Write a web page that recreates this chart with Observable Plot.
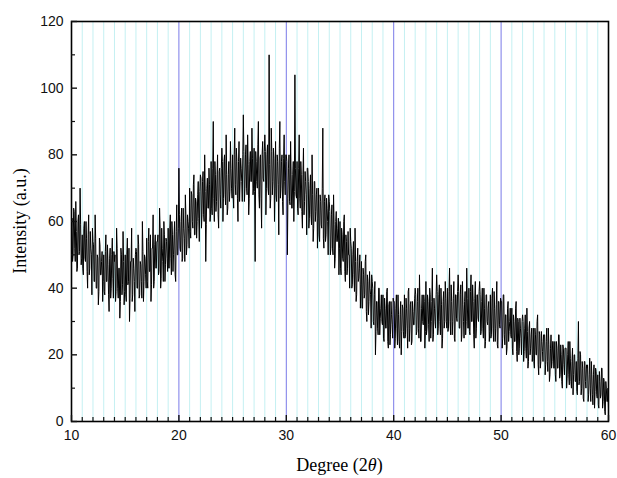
<!DOCTYPE html>
<html><head><meta charset="utf-8">
<script src="https://cdn.jsdelivr.net/npm/d3@7"></script>
<script src="https://cdn.jsdelivr.net/npm/@observablehq/plot@0.6"></script>
<style>body{margin:0;background:#fff} svg{display:block}</style>
</head><body><div id="chart"></div>
<script>
// Sampling grid of the scan: 2θ from 10° in 0.05° steps
const xStart = 10;
const xStep = 0.05;
// Intensity (a.u.) at 10.0, 10.1, 10.2 ... (one row per degree)
const intensity = [
  58,48,64,52,66,45,60,50,70,47,
  56,44,60,48,55,40,62,46,52,38,
  54,42,62,40,50,35,55,44,48,36,
  50,38,56,42,47,33,52,40,55,37,
  48,36,58,40,46,31,52,38,57,35,
  50,36,55,42,30,48,58,38,46,33,
  52,40,56,37,48,42,60,36,50,44,
  55,40,58,45,36,52,62,42,56,46,
  54,44,64,40,58,48,60,42,55,49,
  58,46,62,44,56,50,60,42,65,50,
  76,52,60,48,64,55,68,50,62,58,
  70,55,68,58,74,56,66,60,72,54,
  74,58,72,62,80,48,70,64,76,60,
  78,62,90,60,74,66,80,58,76,64,
  82,60,78,68,86,62,74,66,84,70,
  80,64,88,68,78,60,84,72,76,66,
  92,66,80,70,86,62,78,72,88,68,
  82,48,78,70,90,64,80,58,84,72,
  86,62,80,70,110,64,88,68,82,60,
  84,66,78,56,90,70,80,62,86,68,
  80,50,76,66,84,64,74,60,104,68,
  78,62,86,64,74,58,82,66,72,56,
  76,58,70,62,80,54,72,60,68,52,
  70,54,66,58,88,52,68,56,64,50,
  66,50,62,52,68,46,60,54,58,44,
  60,44,56,48,62,42,54,46,50,40,
  54,40,50,44,58,36,48,42,46,34,
  48,34,44,38,50,30,42,36,40,28,
  42,30,38,20,36,28,40,26,34,30,
  38,24,34,28,40,22,36,26,32,25,
  36,22,34,28,38,24,32,20,35,27,
  38,26,34,22,40,28,36,24,33,29,
  40,26,36,28,44,24,34,30,38,22,
  42,28,36,24,38,30,46,26,34,28,
  44,26,38,30,40,22,36,28,42,30,
  40,28,46,26,36,30,42,24,38,30,
  44,28,38,24,42,30,36,26,46,28,
  40,26,44,30,36,22,42,28,38,30,
  42,26,36,28,40,22,38,30,34,24,
  38,26,40,24,34,28,42,22,36,28,
  36,22,38,26,32,20,34,24,30,26,
  34,20,30,24,36,18,30,22,28,20,
  32,18,28,22,34,16,28,20,26,18,
  28,16,26,20,32,14,26,18,24,18,
  26,14,24,18,28,12,22,16,24,16,
  24,12,22,16,26,14,20,10,22,14,
  22,10,20,14,24,12,18,8,20,12,
  18,8,30,12,20,10,16,6,18,10,
  16,6,14,10,18,8,14,4,16,8,
  14,4,12,8,16,6,12,2,10,6,
  4
];
// Intensity (a.u.) read at the half steps 10.05, 10.15, 10.25 ... (one row per degree)
const intensityHalf = [
  61,50,63,48,57,46,62,51,59,49,
  46,58,49,60,45,56,44,57,50,58,
  53,42,55,40,49,39,53,44,51,42,
  39,51,42,53,38,49,37,50,43,51,
  50,39,52,37,46,36,50,41,48,39,
  38,50,41,52,37,48,36,49,42,50,
  51,40,53,38,47,37,51,42,49,40,
  42,54,45,56,41,52,40,53,46,54,
  56,45,58,43,52,42,56,47,54,45,
  46,58,49,60,45,56,44,57,50,58,
  62,51,64,49,58,48,62,53,60,52,
  57,69,60,71,56,67,55,68,61,69,
  73,62,75,60,69,59,73,64,71,62,
  64,76,67,78,63,74,62,75,68,76,
  78,67,80,65,74,64,78,69,76,67,
  68,80,71,82,67,78,66,79,72,80,
  81,70,83,68,77,67,81,72,79,70,
  69,81,72,83,68,79,67,80,73,81,
  81,70,83,68,77,67,81,72,79,70,
  68,80,71,82,67,78,66,79,72,80,
  78,67,80,65,74,64,78,69,76,67,
  64,76,67,78,63,74,62,75,68,76,
  72,61,74,59,68,58,72,63,70,61,
  56,68,59,70,55,66,54,67,60,68,
  63,52,65,50,59,49,63,54,61,52,
  46,58,49,60,45,56,44,57,50,58,
  52,41,54,39,48,38,52,43,50,41,
  34,46,37,48,33,44,32,45,38,44,
  40,29,42,27,36,26,40,31,38,29,
  25,37,28,39,24,35,23,36,29,37,
  36,25,38,23,32,22,36,27,34,25,
  25,37,28,39,24,35,23,36,29,37,
  38,27,40,25,34,24,38,29,36,27,
  26,38,29,40,25,36,24,37,30,38,
  39,28,41,26,35,25,39,30,37,28,
  27,39,30,41,26,37,25,38,31,39,
  39,28,41,26,35,25,39,30,37,28,
  27,39,30,41,26,37,25,38,31,39,
  38,27,40,25,34,24,38,29,36,27,
  25,37,28,39,24,35,23,36,29,37,
  36,25,38,23,32,22,36,27,34,25,
  22,32,24,34,21,31,20,31,25,30,
  30,21,32,19,27,18,30,22,28,20,
  18,28,20,30,17,27,16,27,21,26,
  26,17,28,15,23,14,26,18,24,16,
  14,24,16,26,13,23,12,23,17,22,
  22,13,24,11,19,10,22,14,20,12,
  9,19,11,21,8,18,7,18,12,17,
  17,8,19,6,14,5,17,9,15,7,
  5,15,7,16,4,13,3,12,6,10
];
const xMajorTicks = [10, 20, 30, 40, 50, 60];
const xMinorTicks = [11,12,13,14,15,16,17,18,19,21,22,23,24,25,26,27,28,29,31,32,33,34,35,36,37,38,39,41,42,43,44,45,46,47,48,49,51,52,53,54,55,56,57,58,59];
const blueGrid = [20, 30, 40, 50];
const yMajorTicks = [0, 20, 40, 60, 80, 100, 120];
const yMinorTicks = [10, 30, 50, 70, 90, 110];
const xTitle = ["Degree (2", "θ", ")"];
const yTitle = "Intensity (a.u.)";

// Interleave full and half steps into one scan
const data = [];
intensity.forEach((v, i) => {
  data.push({deg: xStart + 2 * i * xStep, val: v});
  if (i < intensityHalf.length) data.push({deg: xStart + (2 * i + 1) * xStep, val: intensityHalf[i]});
});

const W = 617, H = 478, mL = 71, mR = 9, mT = 21, mB = 57;
const tickFont = "Liberation Sans, Arial, sans-serif";

const plot = Plot.plot({
  width: W, height: H,
  marginLeft: mL, marginRight: mR, marginTop: mT, marginBottom: mB,
  style: {background: "#fff", fontFamily: tickFont, fontSize: "14px", color: "#111"},
  x: {domain: [10, 60]},
  y: {domain: [0, 120]},
  marks: [
    Plot.ruleX(xMinorTicks, {stroke: "#c4f0f2", strokeWidth: 1}),
    Plot.ruleX(blueGrid, {stroke: "#7a7ae8", strokeWidth: 1}),
    Plot.line(data, {x: "deg", y: "val", stroke: "#000", strokeWidth: 1}),
    Plot.frame({stroke: "#000", strokeWidth: 1.6}),
    Plot.axisX(xMajorTicks, {tickSize: -6, tickFormat: () => "", label: null, strokeWidth: 1.4}),
    Plot.axisX(xMinorTicks, {tickSize: -4, tickFormat: () => "", label: null, strokeWidth: 1.2}),
    Plot.axisX(xMajorTicks, {tickSize: 0, tickPadding: 9, label: null, fontSize: 14}),
    Plot.axisY(yMajorTicks, {tickSize: -6, tickFormat: () => "", label: null, strokeWidth: 1.4}),
    Plot.axisY(yMinorTicks, {tickSize: -4, tickFormat: () => "", label: null, strokeWidth: 1.2}),
    Plot.axisY(yMajorTicks, {tickSize: 0, tickPadding: 8, label: null, fontSize: 14})
  ]
});

const svg = d3.select(plot);
const xt = svg.append("text")
  .attr("x", mL + (W - mL - mR) / 2).attr("y", 471)
  .attr("text-anchor", "middle")
  .attr("font-family", "Liberation Serif, Times New Roman, serif")
  .attr("font-size", 18).attr("fill", "#000");
xt.append("tspan").text(xTitle[0]);
xt.append("tspan").attr("font-style", "italic").text(xTitle[1]);
xt.append("tspan").text(xTitle[2]);
svg.append("text")
  .attr("transform", `translate(26,${mT + (H - mT - mB) / 2}) rotate(-90)`)
  .attr("text-anchor", "middle")
  .attr("font-family", "Liberation Serif, Times New Roman, serif")
  .attr("font-size", 18).attr("fill", "#000")
  .text(yTitle);

document.getElementById("chart").appendChild(plot);
</script>
</body></html>
